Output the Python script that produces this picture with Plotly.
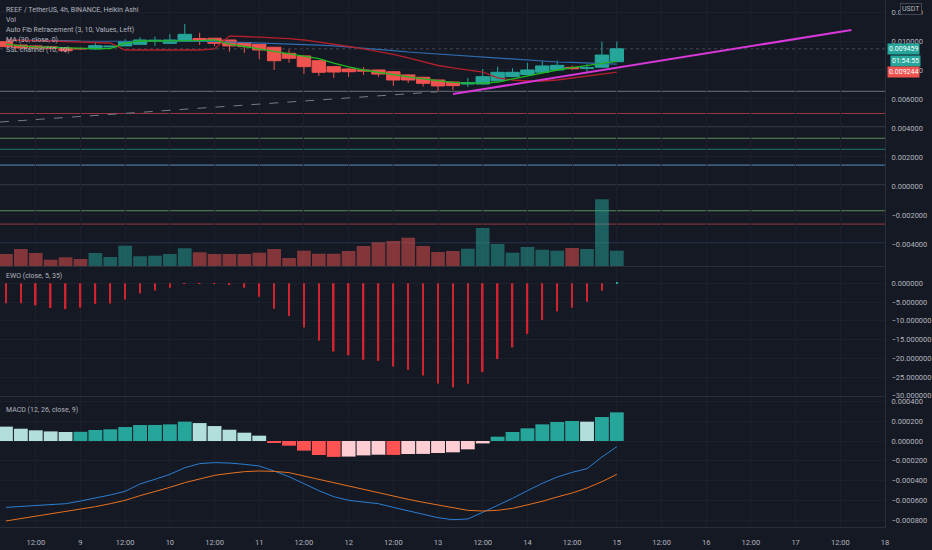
import pandas as pd
import plotly.graph_objects as go

# 4h Heikin Ashi candles, REEF / TetherUS
times = pd.date_range("2022-08-08 04:00", periods=42, freq="4h")

ha_open = [0.00995, 0.00972, 0.00966, 0.00960, 0.00950, 0.00948, 0.00945, 0.00959, 0.00966, 0.00977,
           0.01000, 0.00984, 0.01002, 0.01017, 0.01019, 0.01007, 0.00988, 0.00977, 0.00957, 0.00915,
           0.00897, 0.00864, 0.00823, 0.00807, 0.00800, 0.00800, 0.00788, 0.00766, 0.00750, 0.00731,
           0.00717, 0.00703, 0.00703, 0.00726, 0.00754, 0.00768, 0.00784, 0.00800, 0.00818, 0.00812,
           0.00819, 0.00857]
ha_high = [0.01000, 0.00976, 0.00969, 0.00962, 0.00951, 0.00955, 0.00995, 0.00966, 0.01012, 0.01026,
           0.01030, 0.01048, 0.01117, 0.01057, 0.01020, 0.01008, 0.00990, 0.00978, 0.00960, 0.00940,
           0.00899, 0.00866, 0.00825, 0.00815, 0.00821, 0.00802, 0.00790, 0.00768, 0.00752, 0.00733,
           0.00719, 0.00745, 0.00807, 0.00823, 0.00812, 0.00850, 0.00865, 0.00865, 0.00830, 0.00845,
           0.00996, 0.00996]
ha_low = [0.00954, 0.00950, 0.00948, 0.00947, 0.00920, 0.00940, 0.00940, 0.00955, 0.00966, 0.00975,
          0.00966, 0.00982, 0.01000, 0.00972, 0.00965, 0.00926, 0.00918, 0.00874, 0.00800, 0.00850,
          0.00772, 0.00760, 0.00745, 0.00752, 0.00766, 0.00752, 0.00690, 0.00710, 0.00686, 0.00652,
          0.00662, 0.00683, 0.00701, 0.00724, 0.00752, 0.00766, 0.00782, 0.00798, 0.00800, 0.00780,
          0.00817, 0.00855]
ha_close = [0.00961, 0.00952, 0.00952, 0.00950, 0.00933, 0.00946, 0.00968, 0.00964, 0.00995, 0.01007,
            0.01005, 0.01007, 0.01046, 0.01005, 0.00984, 0.00966, 0.00961, 0.00938, 0.00864, 0.00881,
            0.00823, 0.00784, 0.00786, 0.00788, 0.00793, 0.00772, 0.00731, 0.00731, 0.00708, 0.00690,
            0.00692, 0.00712, 0.00754, 0.00784, 0.00784, 0.00800, 0.00828, 0.00832, 0.00809, 0.00815,
            0.00903, 0.009459]

# volume, millions
volume = [12, 17, 13, 6.3, 8.7, 7, 13, 9, 20.3, 9.7, 10.3, 12, 17.7, 13.7, 12, 12, 12, 13.3, 17, 8,
          15.3, 12.3, 12.3, 15, 20, 23.7, 25, 28.3, 20, 14, 15, 17.3, 38, 22, 13.3, 19, 16.3, 15.3,
          18, 17, 66.7, 15.3]

ma30 = [0.01007, 0.01007, 0.01003, 0.01003, 0.01003, 0.01000, 0.01000, 0.01000, 0.01000, 0.01000,
        0.01000, 0.01000, 0.01000, 0.01000, 0.00997, 0.00993, 0.00990, 0.00986, 0.00983, 0.00979,
        0.00976, 0.00972, 0.00966, 0.00959, 0.00952, 0.00945, 0.00934, 0.00924, 0.00917, 0.00910,
        0.00903, 0.00897, 0.00890, 0.00883, 0.00876, 0.00869, 0.00862, 0.00855, 0.00852, 0.00848,
        0.00845, 0.00841]
ssl_red = [0.01007, 0.01007, 0.01003, 0.01000, 0.00997, 0.00993, 0.00990, 0.00986, 0.00938, 0.00938,
           0.00938, 0.00938, 0.00938, 0.00938, 0.00945, 0.01034, 0.01031, 0.01028, 0.01024, 0.01017,
           0.01007, 0.00993, 0.00979, 0.00962, 0.00945, 0.00928, 0.00907, 0.00883, 0.00855, 0.00831,
           0.00814, 0.00800, 0.00786, 0.00745, 0.00731, 0.00724, 0.00724, 0.00731, 0.00745, 0.00759,
           0.00772, 0.00786]
ssl_green = [0.00979, 0.00966, 0.00959, 0.00955, 0.00952, 0.00948, 0.00948, 0.00948, 0.00986, 0.01000,
             0.01000, 0.01000, 0.01000, 0.01003, 0.01007, 0.00979, 0.00962, 0.00945, 0.00928, 0.00910,
             0.00897, 0.00879, 0.00848, 0.00821, 0.00800, 0.00783, 0.00766, 0.00752, 0.00738, 0.00724,
             0.00714, 0.00710, 0.00710, 0.00717, 0.00738, 0.00762, 0.00783, 0.00800, 0.00817, 0.00831,
             0.00845, 0.00859]

# auto fib levels
fib_levels = [0.00653, 0.00500, 0.00405, 0.00329, 0.00253, 0.00144, 0.00005, -0.00171, -0.00263, -0.00395]
fib_colors = ["#6d707a", "#9a3942", "#858891", "#5e8c5d", "#1f7a6e", "#5a8dbd",
              "#6d707a", "#5e8c5d", "#9a3942", "#3a5fa3"]

fib_link_times = ["2022-08-08 02:24", "2022-08-13 00:00"]
fib_link_prices = [0.00441, 0.00650]
trend_times = ["2022-08-13 04:00", "2022-08-17 15:00"]
trend_prices = [0.00634, 0.01076]
last_price = 0.009459

ewo = [-5.3, -5.3, -5.9, -6.6, -6.9, -6.5, -5.5, -5.4, -4.3, -2.7, -1.9, -1.2, -0.1, -0.1, -0.05,
       -0.4, -1.2, -3.6, -6.8, -8.7, -11.8, -15.3, -18.2, -19.2, -20.4, -20.7, -22.2, -23.1, -24.6,
       -26.7, -27.7, -26.8, -23.7, -20.2, -17.1, -13.5, -9.8, -7.5, -6.5, -4.9, -2.0, 0.3]

macd_hist = [0.000145, 0.000124, 0.000108, 0.000097, 0.000091, 0.000093, 0.000111, 0.000118, 0.000141,
             0.000161, 0.000162, 0.000168, 0.000195, 0.000181, 0.000151, 0.000114, 0.000084, 0.000054,
             -0.000020, -0.000047, -0.000097, -0.000141, -0.000160, -0.000157, -0.000145, -0.000138,
             -0.000140, -0.000131, -0.000130, -0.000121, -0.000114, -0.000084, -0.000024, 0.000044,
             0.000091, 0.000128, 0.000168, 0.000192, 0.000202, 0.000195, 0.000242, 0.000289]
macd_line = [-0.000669, -0.000659, -0.000649, -0.000642, -0.000632, -0.000605, -0.000578, -0.000544,
             -0.000507, -0.000433, -0.000386, -0.000336, -0.000269, -0.000228, -0.000218, -0.000222,
             -0.000235, -0.000252, -0.000302, -0.000360, -0.000430, -0.000501, -0.000561, -0.000598,
             -0.000615, -0.000632, -0.000669, -0.000702, -0.000736, -0.000773, -0.000793, -0.000786,
             -0.000719, -0.000652, -0.000578, -0.000501, -0.000427, -0.000363, -0.000316, -0.000279,
             -0.000161, -0.000057]
signal_line = [-0.000806, -0.000783, -0.000759, -0.000736, -0.000712, -0.000689, -0.000662, -0.000632,
               -0.000598, -0.000551, -0.000511, -0.000467, -0.000420, -0.000383, -0.000346, -0.000326,
               -0.000309, -0.000302, -0.000306, -0.000319, -0.000353, -0.000383, -0.000420, -0.000454,
               -0.000487, -0.000524, -0.000558, -0.000588, -0.000618, -0.000645, -0.000679, -0.000699,
               -0.000706, -0.000699, -0.000679, -0.000645, -0.000608, -0.000564, -0.000524, -0.000474,
               -0.000410, -0.000336]

tick_times = ["2022-08-08 12:00", "2022-08-09", "2022-08-09 12:00", "2022-08-10", "2022-08-10 12:00",
              "2022-08-11", "2022-08-11 12:00", "2022-08-12", "2022-08-12 12:00", "2022-08-13",
              "2022-08-13 12:00", "2022-08-14", "2022-08-14 12:00", "2022-08-15", "2022-08-15 12:00",
              "2022-08-16", "2022-08-16 12:00", "2022-08-17", "2022-08-17 12:00", "2022-08-18"]
tick_labels = ["12:00", "9", "12:00", "10", "12:00", "11", "12:00", "12", "12:00", "13",
               "12:00", "14", "12:00", "15", "12:00", "16", "12:00", "17", "12:00", "18"]

BG = "#151924"
GRID = "#1c202b"
SEP = "#2a2e39"
TXT = "#b2b5be"
FONT = "Liberation Sans Narrow, Roboto, sans-serif"
BAR4H = 4 * 3600 * 1000

up = [c >= o for o, c in zip(ha_open, ha_close)]
vol_colors = ["rgba(38,166,154,0.5)" if u else "rgba(239,83,80,0.5)" for u in up]
ewo_colors = ["#26a69a" if v > 0 else "#d1222f" for v in ewo]
hist_colors = []
for i, h in enumerate(macd_hist):
    rising = i > 0 and h > macd_hist[i - 1]
    if h >= 0:
        hist_colors.append("#26a69a" if rising else "#b2dfdb")
    else:
        hist_colors.append("#ffcdd2" if rising else "#ff5252")

fig = go.Figure()

# price pane
fig.add_trace(go.Bar(x=times, y=volume, marker_color=vol_colors, marker_line_width=0,
                     width=BAR4H * 0.92, xaxis="x", yaxis="y2"))
fig.add_trace(go.Scatter(x=fib_link_times, y=fib_link_prices, mode="lines",
                         line=dict(color="#787b86", width=1, dash="dash"), xaxis="x", yaxis="y"))
fig.add_trace(go.Scatter(x=times, y=ma30, mode="lines", line=dict(color="#2f6db0", width=1.2),
                         xaxis="x", yaxis="y"))
fig.add_trace(go.Scatter(x=times, y=ssl_red, mode="lines", line=dict(color="#b3202b", width=1.3),
                         xaxis="x", yaxis="y"))
fig.add_trace(go.Scatter(x=times, y=ssl_green, mode="lines", line=dict(color="#1fb81f", width=1.3),
                         xaxis="x", yaxis="y"))
fig.add_trace(go.Candlestick(x=times, open=ha_open, high=ha_high, low=ha_low, close=ha_close,
                             increasing=dict(line=dict(color="#26a69a", width=1), fillcolor="#26a69a"),
                             decreasing=dict(line=dict(color="#ef5350", width=1), fillcolor="#ef5350"),
                             whiskerwidth=0, xaxis="x", yaxis="y"))
fig.add_trace(go.Scatter(x=trend_times, y=trend_prices, mode="lines",
                         line=dict(color="#d838d8", width=2), xaxis="x", yaxis="y"))

# EWO pane
fig.add_trace(go.Bar(x=times, y=ewo, marker_color=ewo_colors, marker_line_width=0,
                     width=BAR4H * 0.11, xaxis="x2", yaxis="y3"))

# MACD pane
fig.add_trace(go.Bar(x=times, y=macd_hist, marker_color=hist_colors, marker_line_width=0,
                     width=BAR4H * 0.93, xaxis="x3", yaxis="y4"))
fig.add_trace(go.Scatter(x=times, y=macd_line, mode="lines", line=dict(color="#2a7fd0", width=1),
                         xaxis="x3", yaxis="y4"))
fig.add_trace(go.Scatter(x=times, y=signal_line, mode="lines", line=dict(color="#e8701f", width=1),
                         xaxis="x3", yaxis="y4"))

shapes = []
for lvl, col in zip(fib_levels, fib_colors):
    shapes.append(dict(type="line", xref="paper", x0=0, x1=1, yref="y", y0=lvl, y1=lvl,
                       line=dict(color=col, width=1), layer="below"))
shapes.append(dict(type="line", xref="paper", x0=0, x1=1, yref="y", y0=last_price, y1=last_price,
                   line=dict(color="#434651", width=1, dash="dot"), layer="below"))

x_range = ["2022-08-08 02:24", "2022-08-18 00:00"]
xcommon = dict(type="date", range=x_range, showgrid=True, gridcolor=GRID, gridwidth=1,
               tickvals=tick_times, zeroline=False, showline=True, linecolor=SEP, linewidth=1,
               fixedrange=True)
ycommon = dict(side="right", showgrid=True, gridcolor=GRID, zeroline=False, showline=True,
               linecolor=SEP, linewidth=1, tickfont=dict(family=FONT, size=7.5, color=TXT),
               ticklabelstandoff=4, fixedrange=True)

fig.update_layout(
    width=932, height=550,
    margin=dict(l=0, r=42, t=0, b=23),
    paper_bgcolor=BG, plot_bgcolor=BG,
    showlegend=False,
    boxgap=0.0, boxgroupgap=0.1,
    shapes=shapes,
    xaxis=dict(**xcommon, anchor="y", showticklabels=False, rangeslider=dict(visible=False)),
    xaxis2=dict(**xcommon, anchor="y3", matches="x", showticklabels=False),
    xaxis3=dict(**xcommon, anchor="y4", matches="x", ticktext=tick_labels,
                tickfont=dict(family=FONT, size=7.5, color=TXT), ticklabelstandoff=8),
    yaxis=dict(**ycommon, domain=[0.4953, 1], anchor="x", range=[-0.00552, 0.012828],
               tick0=0, dtick=0.002, tickformat=".6f"),
    yaxis2=dict(overlaying="y", anchor="x", side="right", range=[0, 266], visible=False,
                fixedrange=True),
    yaxis3=dict(**ycommon, domain=[0.2486, 0.4934], anchor="x2", range=[-30.05, 4.34],
                tick0=0, dtick=5, tickformat=".6f"),
    yaxis4=dict(**ycommon, domain=[0, 0.2467], anchor="x3", range=[-0.000867, 0.000444],
                tick0=0, dtick=0.0002, tickformat=".6f"),
)

legend_font = dict(family=FONT, size=7, color=TXT)
pane_titles = [
    ("REEF / TetherUS, 4h, BINANCE, Heikin Ashi", 0.981),
    ("Vol", 0.962),
    ("Auto Fib Retracement (3, 10, Values, Left)", 0.943),
    ("MA (30, close, 0)", 0.924),
    ("SSL channel (10, 10)", 0.905),
    ("EWO (close, 5, 35)", 0.4763),
    ("MACD (12, 26, close, 9)", 0.222),
]
for txt, yy in pane_titles:
    fig.add_annotation(text=txt, xref="paper", yref="paper", x=0.004, y=yy, xanchor="left",
                       yanchor="middle", showarrow=False, font=legend_font)

tag_font = dict(family=FONT, size=7, color="#ffffff")
fig.add_annotation(text="USDT", xref="paper", yref="paper", x=1.0295, y=0.982, xanchor="center",
                   yanchor="middle", showarrow=False, bgcolor=BG, bordercolor="#434651",
                   borderwidth=1, borderpad=1, font=dict(family=FONT, size=7, color=TXT))
fig.add_annotation(text="%.6f" % last_price, xref="paper", yref="y", x=1.0, y=last_price,
                   xanchor="left", yanchor="middle", xshift=2, showarrow=False, bgcolor="#26a69a",
                   borderpad=1, font=tag_font)
fig.add_annotation(text="01:54:55", xref="paper", yref="paper", x=1.0, y=0.8843, xanchor="left",
                   yanchor="middle", xshift=5, showarrow=False, bgcolor="#26a69a", borderpad=1,
                   font=tag_font)
fig.add_annotation(text="0.009244", xref="paper", yref="paper", x=1.0, y=0.8643, xanchor="left",
                   yanchor="middle", xshift=2, showarrow=False, bgcolor="#ef5350", borderpad=1,
                   font=tag_font)

# drop the browser's default body margin so the 932x550 figure fills the window
fig.write_html("out.html", config={"displayModeBar": False},
               post_script="document.body.style.margin='0';")
